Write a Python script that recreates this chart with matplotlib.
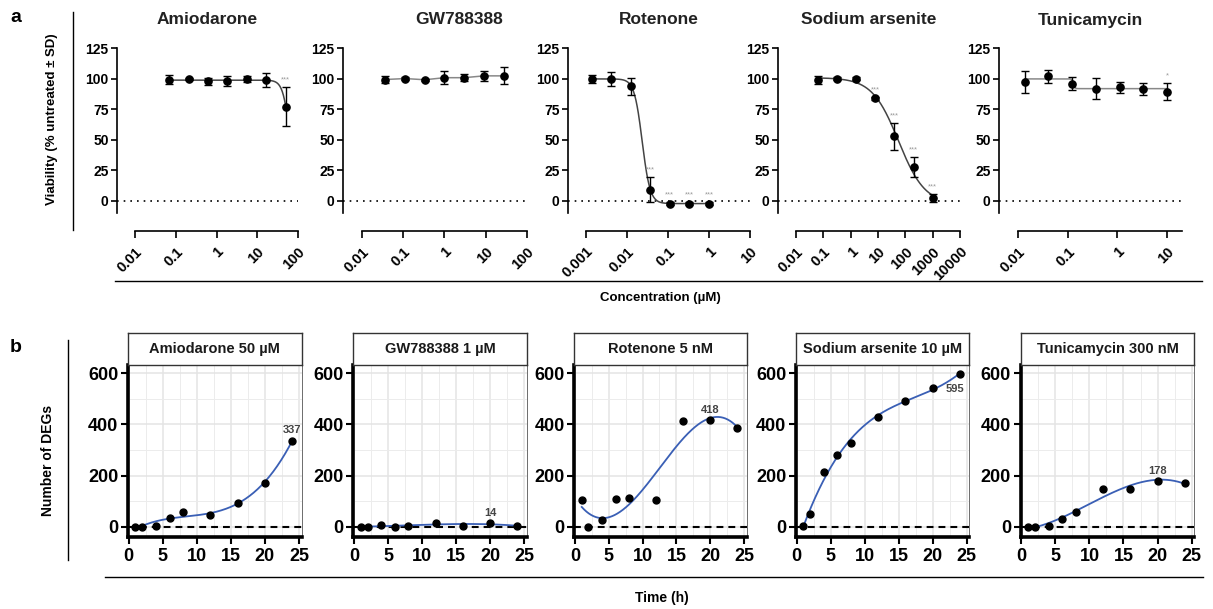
import numpy as np
import matplotlib
matplotlib.use("Agg")
import matplotlib.pyplot as plt
from matplotlib.lines import Line2D

plt.rcParams['font.family'] = ['Liberation Sans', 'DejaVu Sans']
plt.rcParams['font.weight'] = 'bold'

# ---- panel a: viability dose-response ----
drugs = ['Amiodarone', 'GW788388', 'Rotenone', 'Sodium arsenite', 'Tunicamycin']

amio_conc = [0.0686, 0.206, 0.617, 1.85, 5.56, 16.7, 50]
amio_via = [99.5, 100, 98, 98, 100, 99, 77]
amio_sd = [4, 1, 3, 4, 2.5, 6, 16]
amio_sig = ['', '', '', '', '', '', '***']

gw_conc = [0.037, 0.111, 0.333, 1, 3, 9, 27]
gw_via = [99.5, 100.3, 99.3, 101, 101, 102.5, 102.5]
gw_sd = [3, 1, 1, 5.5, 3, 4, 7]
gw_sig = ['', '', '', '', '', '', '']

rot_conc = [0.00137, 0.0041, 0.0123, 0.037, 0.111, 0.333, 1]
rot_via = [100, 100, 94, 9, -2.5, -2.5, -2.5]
rot_sd = [3.5, 5.5, 7, 10.5, 1, 1, 1]
rot_sig = ['', '', '', '***', '***', '***', '***']

ars_conc = [0.064, 0.32, 1.6, 8, 40, 200, 1000]
ars_via = [99.2, 100.3, 100.3, 84, 52.7, 27.5, 2.2]
ars_sd = [3, 1, 1, 1, 11, 8.5, 3.5]
ars_sig = ['', '', '', '***', '***', '***', '***']

tun_conc = [0.0137, 0.041, 0.123, 0.37, 1.11, 3.33, 10]
tun_via = [97.8, 102, 96, 92, 93, 92, 89.5]
tun_sd = [9, 5, 5.5, 8.5, 4.5, 5, 7]
tun_sig = ['', '', '', '', '', '', '*']

# four-parameter logistic fits: top, bottom, logEC50, hill
amio_fit = [99, 0, 1.81, 5]
gw_fit = None  # drawn as connecting line
rot_fit = [100, -2.5, -1.63, 4.5]
ars_fit = [101, -3, 1.75, 0.9]
tun_fit = [100, 92, -0.88, 30]

top_conc = [amio_conc, gw_conc, rot_conc, ars_conc, tun_conc]
top_via = [amio_via, gw_via, rot_via, ars_via, tun_via]
top_sd = [amio_sd, gw_sd, rot_sd, ars_sd, tun_sd]
top_sig = [amio_sig, gw_sig, rot_sig, ars_sig, tun_sig]
top_fit = [amio_fit, gw_fit, rot_fit, ars_fit, tun_fit]
fit_color = ['#444444', '#888888', '#444444', '#444444', '#888888']

# ---- panel b: number of DEGs over time ----
titles_b = ['Amiodarone 50 µM', 'GW788388 1 µM', 'Rotenone 5 nM',
            'Sodium arsenite 10 µM', 'Tunicamycin 300 nM']
time_h = [1, 2, 4, 6, 8, 12, 16, 20, 24]
amio_deg = [0, 0, 4, 33, 56, 46, 94, 172, 337]
gw_deg = [0, 0, 6, 0, 4, 16, 3, 14, 3]
rot_deg = [104, 0, 26, 107, 113, 104, 412, 418, 385]
ars_deg = [4, 48, 215, 280, 329, 427, 493, 544, 595]
tun_deg = [0, 0, 2, 29, 59, 146, 146, 178, 172]
degs = [amio_deg, gw_deg, rot_deg, ars_deg, tun_deg]
label_idx = [8, 7, 7, 8, 7]
label_above = [True, True, True, False, True]


def four_pl(x, p):
    top, bottom, logec, h = p
    return bottom + (top - bottom) / (1 + 10 ** ((np.log10(x) - logec) * h))


W, H = 1213, 609
fig = plt.figure(figsize=(W / 100, H / 100), dpi=100)


def px_axes(x0, y0, x1, y1):
    return fig.add_axes([x0 / W, 1 - y1 / H, (x1 - x0) / W, (y1 - y0) / H])


def fig_line(x0, y0, x1, y1, lw=1.0):
    fig.add_artist(Line2D([x0 / W, x1 / W], [1 - y0 / H, 1 - y1 / H],
                          transform=fig.transFigure, color='black', lw=lw))


def fig_text(x, y, s, **kw):
    fig.text(x / W, 1 - y / H, s, **kw)


# layout of top panels: y-spine px, first tick px, last tick px, right px, exponents
top_layout = [(117, 135, 298, 298, -2, 2),
              (343, 362, 527, 527, -2, 2),
              (568, 586, 750, 750, -3, 1),
              (778, 796, 960, 960, -2, 4),
              (999, 1018, 1167, 1182, -2, 1)]
title_x = [207, 459, 659, 869, 1090]


def dec_label(e):
    v = 10.0 ** e
    return ('%g' % v) if e < 0 else str(int(v))


for i in range(5):
    sp, f, l, r, lo, hi = top_layout[i]
    ax = px_axes(sp, 48.5, r, 212.7)
    dec = (l - f) / (hi - lo)
    xl = 10 ** (lo - (f - sp) / dec)
    xr = 10 ** (hi + (r - l) / dec)
    ax.set_xscale('log')
    ax.set_xlim(xl, xr)
    ax.set_ylim(-10, 125)
    ax.axhline(0, color='black', lw=1.2, dashes=(1, 3))
    conc = np.array(top_conc[i])
    via = np.array(top_via[i])
    sd = np.array(top_sd[i])
    if top_fit[i] is None:
        ax.plot(conc, via, color=fit_color[i], lw=1.1, zorder=2)
    else:
        xs = np.logspace(np.log10(conc[0]), np.log10(conc[-1]), 300)
        ax.plot(xs, four_pl(xs, top_fit[i]), color=fit_color[i], lw=1.1, zorder=2)
    ax.errorbar(conc, via, yerr=sd, fmt='o', color='black', ms=5.2,
                capsize=3, elinewidth=1, capthick=1, zorder=3)
    for c, v, s, g in zip(conc, via, sd, top_sig[i]):
        if g:
            ax.text(c, v + s + 3, g, ha='center', va='bottom', fontsize=5.5,
                    color='#9a9a9a', fontweight='normal')
    for s in ['top', 'right']:
        ax.spines[s].set_visible(False)
    ax.spines['left'].set_bounds(-10, 125)
    ax.spines['left'].set_linewidth(1.2)
    ax.spines['bottom'].set_position(('outward', 13))
    ax.spines['bottom'].set_bounds(10 ** lo, xr)
    ax.spines['bottom'].set_linewidth(1.2)
    ax.set_yticks([0, 25, 50, 75, 100, 125])
    ticks = [10.0 ** e for e in range(lo, hi + 1)]
    ax.set_xticks(ticks)
    ax.set_xticklabels([dec_label(e) for e in range(lo, hi + 1)],
                       rotation=45, ha='right', va='top', rotation_mode='anchor')
    ax.xaxis.set_minor_locator(matplotlib.ticker.NullLocator())
    ax.tick_params(axis='y', labelsize=10, width=1.2, length=4, pad=2)
    ax.tick_params(axis='x', labelsize=10.5, width=1.2, length=5, pad=5)
    for t in ax.get_xticklabels() + ax.get_yticklabels():
        t.set_fontweight('bold')
    ax.patch.set_visible(False)
    fig_text(title_x[i], 20, drugs[i], ha='center', va='center',
             fontsize=12.5, fontweight='bold', color='#222222')

fig_text(16, 18, 'a', fontsize=14, fontweight='bold', ha='center', va='center')
fig_text(52, 119, 'Viability (% untreated ± SD)', rotation=90, ha='center',
         va='center', fontsize=9.5, fontweight='bold')
fig_line(73, 12, 73, 230)
fig_line(115, 281, 1202, 281)
fig_text(660, 298, 'Concentration (µM)', ha='center', va='center',
         fontsize=9.5, fontweight='bold')

# ---- bottom row ----
bot_left = [128, 353.3, 574.3, 796, 1020.7]
bot_right = [301.7, 526.7, 746.7, 969.3, 1194.3]
blue = '#3a5fb5'
xs = np.linspace(1, 24, 200)

for i in range(5):
    ax = px_axes(bot_left[i], 365, bot_right[i], 537)
    ax.set_xlim(-0.1, 25.4)
    ax.set_ylim(-40, 632)
    ax.set_xticks([0, 5, 10, 15, 20, 25])
    ax.set_xticks([2.5, 7.5, 12.5, 17.5, 22.5], minor=True)
    ax.set_yticks([0, 200, 400, 600])
    ax.set_yticks([100, 300, 500], minor=True)
    ax.grid(which='major', color='#e4e4e4', lw=1.1)
    ax.grid(which='minor', color='#ececec', lw=0.7)
    ax.set_axisbelow(True)
    ax.axhline(0, color='black', lw=1.5, dashes=(3.3, 2.4), zorder=1.5)
    y = degs[i]
    coef = np.polyfit(time_h, y, 3)
    ax.plot(xs, np.polyval(coef, xs), color=blue, lw=1.3, zorder=2)
    ax.plot(time_h, y, 'o', color='black', ms=5, zorder=3)
    k = label_idx[i]
    if label_above[i]:
        ax.text(time_h[k], y[k] + 40, str(y[k]), ha='center', va='center',
                fontsize=8, fontweight='bold', color='#444444')
    else:
        ax.text(time_h[k] - 0.7, y[k] - 58, str(y[k]), ha='center', va='center',
                fontsize=8, fontweight='bold', color='#444444')
    for s in ['top', 'right']:
        ax.spines[s].set_color('#555555')
        ax.spines[s].set_linewidth(0.6)
    for s in ['left', 'bottom']:
        ax.spines[s].set_linewidth(2.6)
        ax.spines[s].set_color('black')
    ax.tick_params(which='major', labelsize=13, width=1.5, length=5, pad=2)
    ax.tick_params(axis='x', which='major', pad=3)
    ax.tick_params(which='minor', length=0)
    for t in ax.get_xticklabels() + ax.get_yticklabels():
        t.set_fontweight('bold')
    # strip
    sa = px_axes(bot_left[i], 333, bot_right[i], 365)
    sa.set_xticks([])
    sa.set_yticks([])
    for s in sa.spines.values():
        s.set_color('#333333')
        s.set_linewidth(1.0)
    sa.text(0.5, 0.5, titles_b[i], ha='center', va='center', fontsize=10.5,
            fontweight='bold', color='#1a1a1a', transform=sa.transAxes)

fig_text(16, 347, 'b', fontsize=14, fontweight='bold', ha='center', va='center')
fig_text(48, 460, 'Number of DEGs', rotation=90, ha='center', va='center',
         fontsize=10, fontweight='bold')
fig_line(68, 340, 68, 560)
fig_line(105, 577, 1203, 577)
fig_text(662, 598, 'Time (h)', ha='center', va='center', fontsize=10,
         fontweight='bold')

fig.savefig('out.png', dpi=100)
